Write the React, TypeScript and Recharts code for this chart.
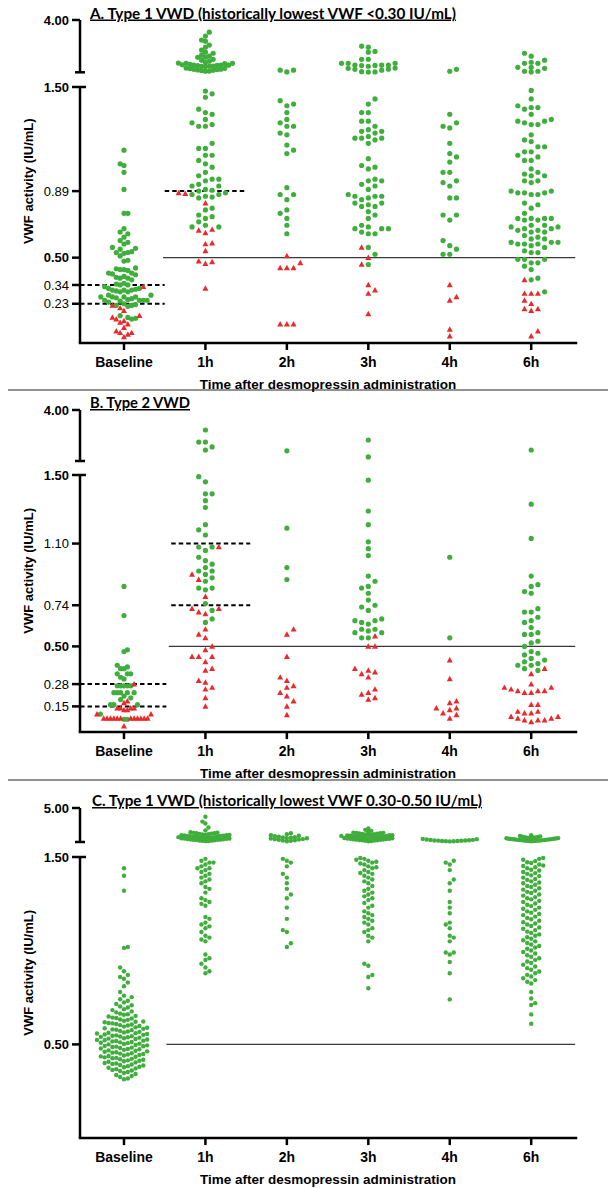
import { ReferenceLine, Scatter, ScatterChart, XAxis, YAxis } from 'recharts'

const TIMEPOINTS = ['Baseline', '1h', '2h', '3h', '4h', '6h']

// ---- A. Type 1 VWD, historically lowest VWF <0.30 (IU/mL) ----
const aBaseGreen = [1.13, 1.05, 1.04, 1.0, 0.9, 0.76, 0.76, 0.67, 0.65, 0.64, 0.62, 0.6, 0.59, 0.58, 0.56, 0.555, 0.55, 0.53, 0.535, 0.53, 0.525, 0.51, 0.48, 0.485, 0.44, 0.435, 0.43, 0.425, 0.43, 0.41, 0.405, 0.4, 0.39, 0.41, 0.38, 0.38, 0.37, 0.385, 0.35, 0.34, 0.345, 0.33, 0.34, 0.32, 0.31, 0.315, 0.3, 0.31, 0.32, 0.31, 0.3, 0.305, 0.28, 0.27, 0.27, 0.265, 0.27, 0.28, 0.27, 0.26, 0.25, 0.25, 0.245, 0.25, 0.255, 0.24, 0.25, 0.22, 0.225, 0.23, 0.22, 0.215, 0.16, 0.15, 0.14, 0.145]
const aBaseRed = [0.33, 0.22, 0.205, 0.19, 0.16, 0.15, 0.14, 0.13, 0.12, 0.11, 0.09, 0.07, 0.06, 0.06, 0.05, 0.035]
const a1hGreen = [3.42, 3.23, 3.04, 2.99, 2.8, 2.7, 2.56, 2.46, 2.41, 2.32, 2.27, 2.22, 2.22, 2.12, 2.08, 2.03, 1.98, 1.93, 1.93, 1.94, 1.92, 1.88, 1.84, 1.85, 1.83, 1.84, 1.86, 1.82, 1.79, 1.78, 1.8, 1.79, 1.69, 1.7, 1.68, 1.64, 1.65, 1.63, 1.6, 1.61, 1.59, 1.55, 1.56,
  1.476, 1.46, 1.44, 1.37, 1.35, 1.34, 1.31, 1.29, 1.28, 1.27, 1.27, 1.17, 1.14, 1.14, 1.1, 1.1, 1.07, 1.05, 1.03, 1.0, 0.98, 0.96, 0.95, 0.96, 0.92, 0.92, 0.93, 0.9, 0.89, 0.895, 0.87, 0.88, 0.87, 0.86, 0.85, 0.855, 0.79, 0.78, 0.75, 0.74, 0.73, 0.71, 0.69, 0.68, 0.68]
const a1hRed = [0.88, 0.875, 0.82, 0.665, 0.66, 0.645, 0.585, 0.58, 0.54, 0.48, 0.475, 0.465, 0.32]
const a2hGreen = [1.6, 1.52, 1.6, 1.42, 1.35, 1.29, 0.87, 0.78, 1.27, 1.22, 1.11, 0.91, 0.76, 0.69, 0.64, 1.39, 1.31, 1.23, 1.13, 0.84, 0.73, 1.4, 1.27, 1.16, 0.87]
const a2hRed = [0.47, 0.51, 0.44, 0.44, 0.44, 0.11, 0.11, 0.11]
const a3hGreen = [2.75, 2.7, 2.5, 2.46, 2.12, 2.12, 1.93, 1.93, 1.93, 1.84, 1.7, 1.64, 1.65, 1.69, 1.79, 1.84, 1.83, 1.85, 1.6, 1.82, 1.53, 1.52, 1.51,
  1.43, 1.4, 1.35, 1.35, 1.3, 1.3, 1.27, 1.25, 1.24, 1.23, 1.24, 1.2, 1.2, 1.21, 1.19, 1.2, 1.17, 1.08, 1.04, 1.03, 1.02, 0.96, 0.95, 0.95, 0.92, 0.93, 0.9, 0.86, 0.86, 0.87, 0.86, 0.85, 0.84, 0.82, 0.82, 0.81, 0.8, 0.8, 0.77, 0.75, 0.73, 0.69, 0.67, 0.67, 0.68, 0.67, 0.64, 0.64, 0.65, 0.56, 0.52, 0.46]
const a3hRed = [0.56, 0.5, 0.46, 0.34, 0.31, 0.29, 0.17]
const a4hGreen = [1.64, 1.55, 1.34, 1.29, 1.27, 1.26, 1.17, 1.09, 1.11, 1.06, 1.0, 1.0, 0.94, 0.92, 0.95, 0.85, 0.85, 0.75, 0.75, 0.72, 0.6, 0.57, 0.52, 0.52, 0.55]
const a4hRed = [0.34, 0.25, 0.27, 0.08, 0.04]
const a6hGreen = [1.93, 1.74, 2.27, 1.55, 1.69, 2.41, 1.74, 1.93, 2.08, 1.55, 1.98, 1.52,
  1.48, 1.43, 1.38, 1.38, 1.37, 1.39, 1.34, 1.29, 1.3, 1.28, 1.31, 1.28, 1.3, 1.22, 1.19, 1.18, 1.12, 1.12, 1.15, 1.15, 1.07, 1.09, 1.07, 1.1, 1.02, 0.98, 0.95, 1.0, 0.98, 0.99, 0.94, 0.95, 0.89, 0.89, 0.87, 0.88, 0.87, 0.88, 0.88, 0.82, 0.79, 0.81, 0.76, 0.73, 0.72, 0.72, 0.73, 0.69, 0.69, 0.73, 0.73, 0.68, 0.67, 0.66, 0.65, 0.65, 0.68, 0.63, 0.67, 0.66, 0.62, 0.61, 0.58, 0.59, 0.58, 0.59, 0.58, 0.61, 0.59, 0.56, 0.53, 0.54, 0.53, 0.57, 0.49, 0.49, 0.49, 0.47, 0.45, 0.47, 0.43, 0.38, 0.37, 0.3]
const a6hRed = [0.37, 0.29, 0.29, 0.29, 0.25, 0.2, 0.2, 0.19, 0.23, 0.07, 0.04]
const aRefBaseline = [0.34, 0.23]
const aRef1h = [0.89]
const aTicks = [0.23, 0.34, 0.5, 0.89, 1.5]

// ---- B. Type 2 VWD ----
const bBaseGreen = [0.85, 0.68, 0.48, 0.47, 0.39, 0.38, 0.37, 0.37, 0.34, 0.34, 0.34, 0.31, 0.32, 0.27, 0.27, 0.27, 0.27, 0.27, 0.23, 0.23, 0.23, 0.23, 0.23, 0.2, 0.21, 0.19, 0.16, 0.16, 0.16, 0.105, 0.075, 0.075]
const bBaseRed = [0.28, 0.18, 0.17, 0.14, 0.14, 0.14, 0.14, 0.13, 0.13, 0.105, 0.105, 0.08, 0.08, 0.08, 0.08, 0.08, 0.08, 0.08, 0.08, 0.08, 0.08, 0.08, 0.08, 0.035]
const b1hGreen = [3.02, 2.43, 2.43, 2.04, 2.19, 1.49, 1.46, 1.39, 1.39, 1.35, 1.31, 1.21, 1.18, 1.15, 1.08, 1.08, 1.06, 1.02, 1.0, 0.98, 0.96, 0.92, 0.94, 0.94, 0.9, 0.88, 0.84, 0.84, 0.83, 0.75, 0.71, 0.64, 0.66]
const b1hRed = [1.08, 0.89, 0.92, 0.79, 0.72, 0.72, 0.69, 0.7, 0.6, 0.57, 0.55, 0.5, 0.48, 0.44, 0.44, 0.44, 0.41, 0.37, 0.36, 0.3, 0.29, 0.26, 0.25, 0.2, 0.15]
const b2hGreen = [2.0, 1.19, 0.96, 0.89]
const b2hRed = [0.6, 0.57, 0.44, 0.32, 0.3, 0.27, 0.26, 0.23, 0.21, 0.18, 0.15, 0.1]
const b3hGreen = [2.53, 1.7, 1.47, 1.29, 1.21, 1.11, 1.07, 1.03, 0.91, 0.88, 0.85, 0.84, 0.81, 0.77, 0.74, 0.73, 0.71, 0.65, 0.6, 0.64, 0.58, 0.66, 0.65, 0.63, 0.58, 0.6, 0.59, 0.55, 0.55]
const b3hRed = [0.56, 0.5, 0.5, 0.37, 0.34, 0.35, 0.32, 0.36, 0.25, 0.2, 0.22, 0.23, 0.19]
const b4hGreen = [1.02, 0.55]
const b4hRed = [0.42, 0.31, 0.18, 0.1, 0.14, 0.11, 0.14, 0.17, 0.08, 0.13]
const b6hGreen = [2.04, 1.33, 1.13, 0.91, 0.86, 0.85, 0.82, 0.81, 0.72, 0.7, 0.7, 0.67, 0.65, 0.64, 0.61, 0.58, 0.57, 0.57, 0.53, 0.52, 0.5, 0.47, 0.46, 0.45, 0.43, 0.41, 0.4, 0.39, 0.37, 0.42, 0.39, 0.36]
const b6hRed = [0.37, 0.34, 0.28, 0.25, 0.26, 0.23, 0.24, 0.24, 0.26, 0.23, 0.24, 0.16, 0.16, 0.12, 0.11, 0.12, 0.11, 0.08, 0.06, 0.07, 0.08, 0.07, 0.09, 0.09, 0.07]
const bRefBaseline = [0.28, 0.15]
const bRef1h = [1.1, 0.74]
const bTicks = [0.15, 0.28, 0.5, 0.74, 1.1, 1.5]

// ---- C. Type 1 VWD, historically lowest VWF 0.30-0.50 (all responders) ----
const cBase = [1.44, 1.4, 1.32, 1.02, 1.015, 0.91, 0.89, 0.87, 0.86, 0.85, 0.83, 0.81, 0.78, 0.76,
  0.752, 0.741, 0.733, 0.724, 0.716, 0.709, 0.702, 0.697, 0.688, 0.683, 0.676, 0.671, 0.664, 0.661,
  0.658, 0.652, 0.649, 0.643, 0.641, 0.638, 0.633, 0.631, 0.626, 0.622, 0.621,
  0.618, 0.614, 0.612, 0.609, 0.606, 0.603, 0.601, 0.598, 0.595, 0.591, 0.589, 0.586, 0.583, 0.58,
  0.578, 0.576, 0.572, 0.569, 0.567, 0.564, 0.562, 0.56, 0.558, 0.556, 0.553, 0.551, 0.548, 0.546, 0.544, 0.542, 0.54,
  0.538, 0.536, 0.533, 0.531, 0.529, 0.526, 0.524, 0.522, 0.52, 0.518, 0.516, 0.513, 0.511, 0.509, 0.507, 0.504, 0.502, 0.5,
  0.497, 0.495, 0.492, 0.49, 0.488, 0.486, 0.483, 0.481, 0.478, 0.476, 0.474, 0.471, 0.468, 0.466, 0.463, 0.461,
  0.458, 0.456, 0.453, 0.451, 0.449, 0.446, 0.444, 0.441, 0.438, 0.436, 0.434, 0.431, 0.428, 0.426, 0.423, 0.421,
  0.418, 0.415, 0.413, 0.41, 0.407, 0.404, 0.401, 0.398, 0.396, 0.393, 0.39, 0.387, 0.384, 0.381,
  0.378, 0.375, 0.372, 0.368, 0.364, 0.361, 0.358, 0.353, 0.347, 0.342, 0.337, 0.331, 0.326, 0.318, 0.314]
const c1h = [1.62, 1.85, 1.98, 2.11, 1.73, 2.26, 2.0, 1.77, 2.13, 2.34, 1.89, 1.6, 2.44, 1.78, 2.22, 1.66, 2.31, 1.93, 1.7, 2.18, 1.64, 2.05, 1.95, 2.41, 2.1, 1.59, 2.21, 1.81, 2.07, 2.5, 1.92, 2.36, 1.99, 1.74, 2.15, 1.86, 2.28, 2.04, 1.68, 2.4, 1.83, 1.72, 2.2, 2.45, 1.97, 2.7, 3.0, 3.4, 3.6, 4.1,
  1.49, 1.48, 1.47, 1.47, 1.46, 1.45, 1.44, 1.44, 1.43, 1.42, 1.41, 1.4, 1.39, 1.38, 1.37, 1.36, 1.34, 1.33, 1.31, 1.28, 1.27, 1.26, 1.25, 1.24, 1.18, 1.17, 1.15, 1.14, 1.13, 1.12, 1.1, 1.08, 1.07, 1.06, 1.05, 0.98, 0.96, 0.95, 0.93, 0.91, 0.89, 0.88]
const c2h = [1.62, 1.9, 2.15, 2.3, 1.75, 1.85, 2.1, 1.68, 1.58, 1.95, 2.4, 1.8, 2.05, 1.72, 2.2, 2.0, 1.65, 1.88, 1.78, 1.98,
  1.49, 1.48, 1.47, 1.45, 1.41, 1.39, 1.36, 1.33, 1.3, 1.28, 1.23, 1.17, 1.11, 1.1, 1.04, 1.02]
const c3h = [1.61, 1.83, 2.06, 1.68, 2.2, 1.92, 2.33, 1.75, 2.1, 2.42, 1.88, 1.65, 2.27, 1.97, 2.15, 1.72, 2.38, 1.81, 2.03, 2.47, 1.7, 1.95, 2.24, 1.86, 2.12, 1.63, 2.31, 1.78, 2.0, 2.44, 1.91, 2.18, 1.74, 2.35, 1.99, 2.08, 1.67, 2.29, 2.4, 2.55, 2.65, 2.75, 2.9, 1.84, 2.02, 2.2, 1.58, 2.13, 1.9,
  1.495, 1.49, 1.485, 1.48, 1.475, 1.47, 1.465, 1.46, 1.45, 1.445, 1.44, 1.43, 1.42, 1.415, 1.41, 1.4, 1.39, 1.38, 1.37, 1.36,
  1.345, 1.33, 1.32, 1.31, 1.3, 1.29, 1.28, 1.27, 1.255, 1.24, 1.23, 1.21, 1.2, 1.19, 1.18, 1.17, 1.16, 1.15, 1.14, 1.12, 1.11, 1.1, 1.08, 1.07, 1.05, 0.93, 0.92, 0.87, 0.86, 0.8]
const c4h = [1.6, 1.66, 1.72, 1.58, 1.78, 1.63, 1.7, 1.56, 1.82, 1.65, 1.61, 1.75, 1.59, 1.68, 1.64,
  1.48, 1.47, 1.46, 1.43, 1.38, 1.36, 1.32, 1.26, 1.23, 1.2, 1.14, 1.15, 1.12, 1.08, 1.07, 1.05, 0.99, 0.99, 0.98, 0.94, 0.88, 0.74]
const c6h = [1.6, 1.72, 1.84, 1.66, 1.95, 1.78, 1.63, 2.05, 1.7, 1.88, 1.58, 2.12, 1.74, 1.9, 1.67, 1.99, 1.81, 1.62, 1.86, 2.2, 1.69, 1.77, 1.93, 1.65, 2.02, 1.83, 1.71, 1.97, 1.6, 1.89, 2.08, 1.75, 1.8, 1.64, 1.92,
  1.495, 1.49, 1.485, 1.478, 1.472, 1.468, 1.46, 1.455, 1.452, 1.445, 1.44, 1.432, 1.428, 1.42, 1.414, 1.41, 1.402, 1.398, 1.39, 1.383, 1.378, 1.37, 1.364, 1.36, 1.352, 1.345, 1.34, 1.333, 1.326, 1.32, 1.314, 1.308, 1.3, 1.294, 1.286, 1.28, 1.274, 1.266, 1.26, 1.252, 1.245, 1.238, 1.23, 1.224, 1.218, 1.21, 1.203, 1.196, 1.19, 1.182, 1.175, 1.168, 1.16, 1.152, 1.145, 1.14, 1.132, 1.124, 1.117, 1.11, 1.102, 1.095, 1.087, 1.08, 1.072, 1.064, 1.056, 1.05, 1.041, 1.033, 1.025, 1.017, 1.01, 1.001, 0.993, 0.985, 0.976, 0.968, 0.96, 0.951, 0.942, 0.934, 0.925, 0.916, 0.907, 0.898, 0.889, 0.88, 0.871, 0.862, 0.853, 0.843, 0.834, 0.825, 0.78, 0.745, 0.72, 0.71, 0.66, 0.61]
const cTicks = [0.5, 1.5]

const CUTOFF = 0.5
const BOLD_TICKS = [0.5, 1.5, 4, 5]

const GREEN = '#3fae3c'
const RED = '#ea2a2a'
const FONT = '"Liberation Sans", Arial, sans-serif'
const TITLE_FONT = 'Lato, "Open Sans", sans-serif'

// layout: plot spans x 80..576, categories every ~81.5px
const X_DOMAIN: [number, number] = [-0.54, 5.55]
const PLOT_L = 80
const PLOT_R = 576
const PX_PER_X = (PLOT_R - PLOT_L) / (X_DOMAIN[1] - X_DOMAIN[0])
const BREAK = 1.5

type Pt = { x: number; y: number }

// GraphPad-like column scatter: same-column points need minDy px apart, then squeeze to maxHalf
function swarm(green: number[][], red: number[][], inSeg: (v: number) => boolean, pxPerUnit: number, dx: number, minDy: number, maxHalf: number) {
  const g: Pt[] = []
  const rd: Pt[] = []
  green.forEach((vals, cat) => {
    const items = [
      ...vals.filter(inSeg).map((v) => ({ v, red: false })),
      ...(red[cat] || []).filter(inSeg).map((v) => ({ v, red: true })),
    ].sort((a, b) => a.v - b.v)
    const cols = new Map<number, number[]>()
    const ks: number[] = []
    let side = 1
    for (const it of items) {
      const py = it.v * pxPerUnit
      let k = 0
      for (let s = 0; s < 400; s++) {
        const c = s === 0 ? 0 : Math.ceil(s / 2) * (s % 2 ? side : -side)
        const col = cols.get(c)
        if (!col || col.every((u) => Math.abs(u - py) >= minDy)) {
          k = c
          break
        }
      }
      if (k !== 0) side = -side
      cols.set(k, [...(cols.get(k) || []), py])
      ks.push(k)
    }
    const widest = Math.max(0, ...ks.map(Math.abs)) * dx
    const squeeze = widest > maxHalf ? maxHalf / widest : 1
    items.forEach((it, i) => {
      const p = { x: cat + (ks[i] * dx * squeeze) / PX_PER_X, y: it.v }
      ;(it.red ? rd : g).push(p)
    })
  })
  return { green: g, red: rd }
}

const Dot = (r: number) => (p: any) => <circle cx={p.cx} cy={p.cy} r={r} fill={GREEN} />
const Tri = (r: number) => (p: any) => (
  <polygon
    points={`${p.cx},${p.cy - r * 1.2} ${p.cx - r * 1.15},${p.cy + r * 0.9} ${p.cx + r * 1.15},${p.cy + r * 0.9}`}
    fill={RED}
  />
)

const YTick = ({ y, payload, cap }: any) => {
  const v = payload.value
  if (cap === v) return <line x1={75} x2={85} y1={y} y2={y} stroke="#000" strokeWidth={2.5} />
  return (
    <g>
      <line x1={72} x2={v === BREAK ? 86 : 80} y1={y} y2={y} stroke="#000" strokeWidth={2.5} />
      <text x={69} y={y} dy="0.36em" textAnchor="end" fontFamily={FONT} fontSize={13}
        fontWeight={BOLD_TICKS.includes(v) ? 700 : 400} fill="#000">
        {v.toFixed(2)}
      </text>
    </g>
  )
}

const XTick = ({ x, payload, axisY }: any) => (
  <g>
    <line x1={x} x2={x} y1={axisY} y2={axisY + 7} stroke="#000" strokeWidth={2.5} />
    <text x={x} y={axisY + 19} dy="0.36em" textAnchor="middle" fontFamily={FONT} fontSize={14} fontWeight={700} fill="#000">
      {TIMEPOINTS[payload.value]}
    </text>
  </g>
)

type Dash = { levels: number[]; from: number; to: number }

type SegProps = {
  top: number
  bottom: number
  domain: [number, number]
  ticks: number[]
  cap?: number
  pts: { green: Pt[]; red: Pt[] }
  r: number
  withX: boolean
  cutFrom?: number
  dashes?: Dash[]
}

function Segment({ top, bottom, domain, ticks, cap, pts, r, withX, cutFrom, dashes }: SegProps) {
  const M = 10
  const XH = 52
  const plotBottom = bottom - top + M
  const height = plotBottom + (withX ? XH : M)
  return (
    <div style={{ position: 'absolute', left: 0, top: top - M }}>
      <ScatterChart width={608} height={height} margin={{ top: M, right: 608 - PLOT_R, bottom: withX ? 0 : M, left: 0 }}>
        <XAxis
          type="number"
          dataKey="x"
          domain={X_DOMAIN}
          ticks={[0, 1, 2, 3, 4, 5]}
          interval={0}
          hide={!withX}
          height={XH}
          axisLine={{ stroke: '#000', strokeWidth: 2.5, strokeLinecap: 'square' }}
          tickLine={false}
          tick={(p: any) => <XTick {...p} axisY={plotBottom} />}
          label={{ value: 'Time after desmopressin administration', position: 'insideBottom', offset: 6, fill: '#000', fontSize: 13.5, fontWeight: 700, fontFamily: FONT }}
        />
        <YAxis
          type="number"
          dataKey="y"
          domain={domain}
          ticks={ticks}
          interval={0}
          width={PLOT_L}
          axisLine={{ stroke: '#000', strokeWidth: 2.5 }}
          tickLine={false}
          tick={(p: any) => <YTick {...p} cap={cap} />}
        />
        {cutFrom !== undefined && (
          <ReferenceLine segment={[{ x: cutFrom, y: CUTOFF }, { x: 5.54, y: CUTOFF }]} stroke="#3a3a3a" strokeWidth={1.2} />
        )}
        <Scatter data={pts.green} shape={Dot(r)} isAnimationActive={false} />
        <Scatter data={pts.red} shape={Tri(r)} isAnimationActive={false} />
        {(dashes || []).flatMap((d) =>
          d.levels.map((lv) => (
            <ReferenceLine key={`${d.from}-${lv}`} segment={[{ x: d.from, y: lv }, { x: d.to, y: lv }]}
              stroke="#000" strokeWidth={2} strokeDasharray="4.5 3" />
          )),
        )}
      </ScatterChart>
    </div>
  )
}

type PanelCfg = {
  title: string
  titleX: number
  titleY: number
  titleW: number
  green: number[][]
  red: number[][]
  upper: [number, number]
  upperMax: number
  lower: [number, number]
  lowTicks: number[]
  cutFrom: number
  dashes: Dash[]
  r: number
  low: [number, number]
  up: [number, number]
}

const PANELS: PanelCfg[] = [
  {
    title: 'A. Type 1 VWD (historically lowest VWF <0.30 IU/mL)',
    titleX: 90, titleY: 18.5, titleW: 366,
    green: [aBaseGreen, a1hGreen, a2hGreen, a3hGreen, a4hGreen, a6hGreen],
    red: [aBaseRed, a1hRed, a2hRed, a3hRed, a4hRed, a6hRed],
    upper: [20, 72.3], upperMax: 4, lower: [86.5, 342.5], lowTicks: aTicks,
    cutFrom: 0.48,
    dashes: [{ levels: aRefBaseline, from: -0.54, to: 0.5 }, { levels: aRef1h, from: 0.5, to: 1.49 }],
    r: 2.6, low: [6.7, 6], up: [6.7, 4],
  },
  {
    title: 'B. Type 2 VWD',
    titleX: 90, titleY: 408, titleW: 100,
    green: [bBaseGreen, b1hGreen, b2hGreen, b3hGreen, b4hGreen, b6hGreen],
    red: [bBaseRed, b1hRed, b2hRed, b3hRed, b4hRed, b6hRed],
    upper: [410, 461], upperMax: 4, lower: [474.6, 731.7], lowTicks: bTicks,
    cutFrom: 0.55,
    dashes: [{ levels: bRefBaseline, from: -0.54, to: 0.52 }, { levels: bRef1h, from: 0.58, to: 1.55 }],
    r: 2.6, low: [6.7, 6], up: [6.7, 4],
  },
  {
    title: 'C. Type 1 VWD (historically lowest VWF 0.30-0.50 IU/mL)',
    titleX: 92, titleY: 806, titleW: 390,
    green: [cBase, c1h, c2h, c3h, c4h, c6h],
    red: [],
    upper: [808, 842], upperMax: 5, lower: [856.6, 1137.7], lowTicks: cTicks,
    cutFrom: 0.52,
    dashes: [],
    r: 2.2, low: [4, 5.5], up: [4, 3],
  },
]

function Panel({ cfg }: { cfg: PanelCfg }) {
  const [uTop, uBot] = cfg.upper
  const [lTop, lBot] = cfg.lower
  const upPts = swarm(cfg.green, cfg.red, (v) => v > BREAK, (uBot - uTop) / (cfg.upperMax - BREAK), cfg.up[0], cfg.up[1], 27)
  const lowPts = swarm(cfg.green, cfg.red, (v) => v <= BREAK, (lBot - lTop) / BREAK, cfg.low[0], cfg.low[1], 27)
  return (
    <>
      <Segment top={uTop} bottom={uBot} domain={[BREAK, cfg.upperMax]} ticks={[BREAK, cfg.upperMax]} cap={BREAK}
        pts={upPts} r={cfg.r} withX={false} />
      <Segment top={lTop} bottom={lBot} domain={[0, BREAK]} ticks={cfg.lowTicks}
        pts={lowPts} r={cfg.r} withX cutFrom={cfg.cutFrom} dashes={cfg.dashes} />
    </>
  )
}

export default function App() {
  return (
    <div style={{ position: 'relative', width: 608, height: 1188, background: '#fff', overflow: 'hidden' }}>
      <style>{'body{margin:0}'}</style>
      <svg width={608} height={1188} style={{ position: 'absolute', left: 0, top: 0 }}>
        {PANELS.map((p) => (
          <g key={p.title}>
            <text x={p.titleX} y={p.titleY} fontFamily={TITLE_FONT} fontSize={15} fontWeight={700} fill="#000"
              textDecoration="underline" textLength={p.titleW} lengthAdjust="spacingAndGlyphs">
              {p.title}
            </text>
            <text transform={`translate(28.5 ${(p.upper[0] + p.lower[1]) / 2}) rotate(-90)`} textAnchor="middle" dy="0.36em"
              fontFamily={FONT} fontSize={13} fontWeight={700} fill="#000">
              VWF activity (IU/mL)
            </text>
          </g>
        ))}
        <line x1={8} x2={608} y1={390} y2={390} stroke="#6e6e6e" strokeWidth={1.5} />
        <line x1={8} x2={608} y1={780} y2={780} stroke="#6e6e6e" strokeWidth={1.5} />
      </svg>
      {PANELS.map((p) => (
        <Panel key={p.title} cfg={p} />
      ))}
    </div>
  )
}
